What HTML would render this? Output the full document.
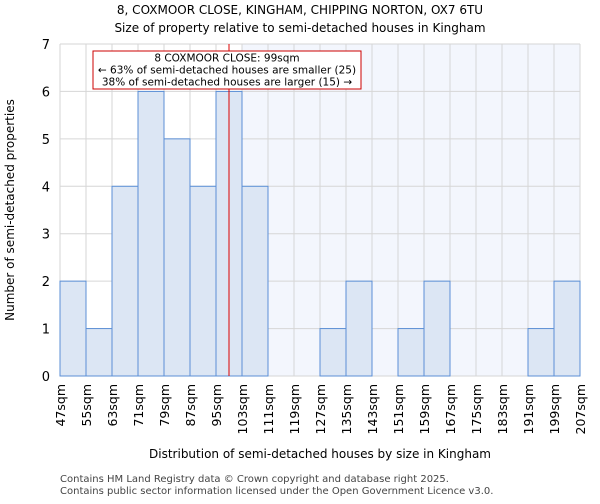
<!DOCTYPE html>
<html><head><meta charset="utf-8"><style>
body{margin:0;background:#fff;font-family:"DejaVu Sans","Liberation Sans",sans-serif;}
</style></head><body>
<svg id="chart" width="600" height="500" xmlns="http://www.w3.org/2000/svg" font-family="DejaVu Sans, Liberation Sans, sans-serif">
<text x="300" y="14" font-size="12" text-anchor="middle">8, COXMOOR CLOSE, KINGHAM, CHIPPING NORTON, OX7 6TU</text>
<text x="300" y="32" font-size="12" text-anchor="middle">Size of property relative to semi-detached houses in Kingham</text>
<g id="plot"></g>
<text x="14" y="210" font-size="12" text-anchor="middle" transform="rotate(-90 14 210)">Number of semi-detached properties</text>
<text x="320" y="458" font-size="12" text-anchor="middle">Distribution of semi-detached houses by size in Kingham</text>
<text x="60" y="482" font-size="10" fill="#444">Contains HM Land Registry data © Crown copyright and database right 2025.</text>
<text x="60" y="494" font-size="10" fill="#444">Contains public sector information licensed under the Open Government Licence v3.0.</text>
</svg>
<script>
const binStarts=[47,55,63,71,79,87,95,103,111,119,127,135,143,151,159,167,175,183,191,199];
const counts=[2,1,4,6,5,4,6,4,0,0,1,2,0,1,2,0,0,0,1,2];
const xTickLabels=["47sqm","55sqm","63sqm","71sqm","79sqm","87sqm","95sqm","103sqm","111sqm","119sqm","127sqm","135sqm","143sqm","151sqm","159sqm","167sqm","175sqm","183sqm","191sqm","199sqm","207sqm"];
const yTicks=[0,1,2,3,4,5,6,7];
const subjectSize=99;
const shadeFrom=103;
const NS="http://www.w3.org/2000/svg";
const L=60,R=580,T=44,B=376,xmin=47,xmax=207,ymax=7;
const X=v=>L+(v-xmin)/(xmax-xmin)*(R-L);
const Y=v=>B-v/ymax*(B-T);
const g=document.getElementById('plot');
function mk(t,a){const e=document.createElementNS(NS,t);for(const k in a)e.setAttribute(k,a[k]);g.appendChild(e);return e;}
let e=mk('rect',{x:X(shadeFrom),y:T,width:R-X(shadeFrom),height:B-T,fill:'#f3f6fd'});


xTickLabels.forEach((s,i)=>{const v=xmin+i*8;const l=mk('line',{x1:X(v),x2:X(v),y1:T,y2:B,stroke:'#d6d6d6','stroke-width':1});

});
yTicks.forEach(v=>{const l=mk('line',{x1:L,x2:R,y1:Y(v),y2:Y(v),stroke:'#d6d6d6','stroke-width':1});


const t=mk('text',{x:L-10,y:Y(v)+5,'font-size':13,'text-anchor':'end'});t.textContent=v;

});
binStarts.forEach((s,i)=>{if(counts[i]<=0)return;const r=mk('rect',{x:X(s),y:Y(counts[i]),width:X(s+8)-X(s),height:B-Y(counts[i]),fill:'#dce6f4',stroke:'#5b8fd6','stroke-width':1});

});
xTickLabels.forEach((s,i)=>{const x=X(xmin+i*8);const t=mk('text',{x:x+5,y:B+8,'font-size':12.5,'text-anchor':'end',transform:`rotate(-90 ${x+5} ${B+8})`});t.textContent=s;

});
const ln=mk('line',{x1:X(subjectSize),x2:X(subjectSize),y1:T,y2:B,stroke:'#d00','stroke-width':1});


const bx=mk('rect',{x:93,y:51,width:268,height:38,fill:'#fff',stroke:'#c00','stroke-width':1});


["8 COXMOOR CLOSE: 99sqm","← 63% of semi-detached houses are smaller (25)","38% of semi-detached houses are larger (15) →"].forEach((s,i)=>{const t=mk('text',{x:227,y:61.5+i*12,'font-size':10.5,'text-anchor':'middle',textLength:i==0?null:0});t.removeAttribute('textLength');t.textContent=s;

});
</script>
</body></html>
